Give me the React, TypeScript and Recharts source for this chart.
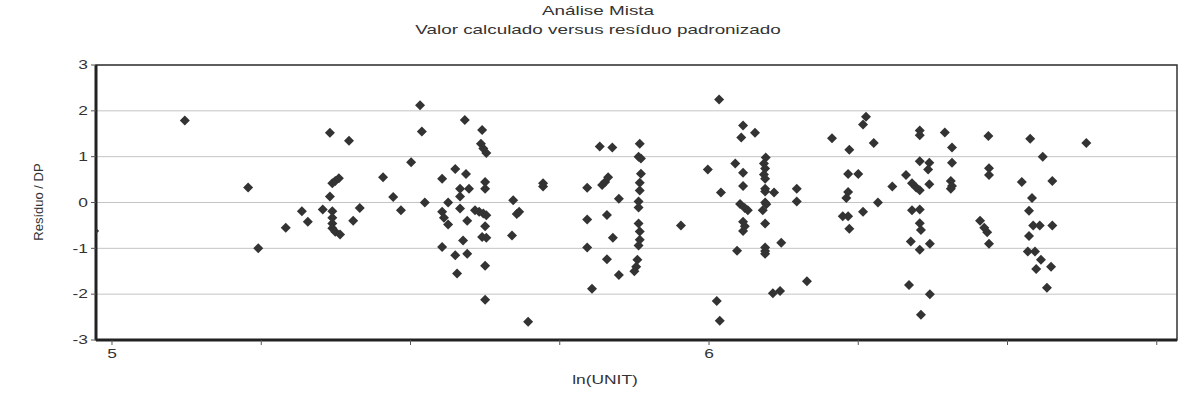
import {
  ScatterChart,
  Scatter,
  XAxis,
  YAxis,
  CartesianGrid,
  ReferenceArea,
} from "recharts";

// ln(UNIT) values
const lnUnit = [
  4.97, 5.122, 5.228, 5.245, 5.291, 5.318, 5.328, 5.353, 5.365, 5.365,
  5.369, 5.374, 5.38, 5.369, 5.369, 5.369, 5.369, 5.374, 5.382, 5.397,
  5.404, 5.415, 5.454, 5.471, 5.484, 5.501, 5.516, 5.519, 5.524, 5.553,
  5.553, 5.556, 5.563, 5.563, 5.553, 5.575, 5.575, 5.578, 5.591, 5.593,
  5.583, 5.598, 5.583, 5.583, 5.595, 5.588, 5.595, 5.62, 5.618, 5.622,
  5.627, 5.625, 5.625, 5.608, 5.615, 5.622, 5.627, 5.625, 5.62, 5.627,
  5.625, 5.625, 5.672, 5.678, 5.682, 5.67, 5.697, 5.722, 5.722, 5.796,
  5.796, 5.796, 5.804, 5.817, 5.838, 5.821, 5.826, 5.831, 5.829, 5.839,
  5.829, 5.849, 5.849, 5.884, 5.882, 5.886, 5.886, 5.884, 5.884, 5.882,
  5.882, 5.882, 5.884, 5.884, 5.882, 5.88, 5.878, 5.875, 5.953, 5.998,
  6.017, 6.02, 6.013, 6.018, 6.057, 6.054, 6.077, 6.044, 6.057, 6.057,
  6.052, 6.06, 6.065, 6.057, 6.06, 6.057, 6.047, 6.095, 6.092, 6.094,
  6.092, 6.094, 6.094, 6.094, 6.094, 6.096, 6.09, 6.094, 6.094, 6.094,
  6.094, 6.109, 6.121, 6.147, 6.147, 6.107, 6.119, 6.164, 6.206, 6.263,
  6.258, 6.276, 6.235, 6.233, 6.25, 6.233, 6.23, 6.283, 6.258, 6.224,
  6.233, 6.235, 6.307, 6.33, 6.34, 6.347, 6.353, 6.369, 6.353, 6.353,
  6.353, 6.369, 6.367, 6.395, 6.407, 6.407, 6.405, 6.407, 6.405, 6.34,
  6.353, 6.353, 6.355, 6.338, 6.353, 6.37, 6.335, 6.37, 6.355, 6.468,
  6.469, 6.469, 6.454, 6.461, 6.466, 6.469, 6.538, 6.559, 6.524, 6.575,
  6.541, 6.536, 6.543, 6.554, 6.575, 6.536, 6.534, 6.546, 6.556, 6.548,
  6.573, 6.566, 6.632,
];

// Resíduo / DP for each point above
const residuo = [
  -0.62, 1.79, 0.33, -1.0, -0.55, -0.19, -0.42, -0.15, 1.52, 0.13,
  0.42, 0.47, 0.53, -0.19, -0.33, -0.46, -0.56, -0.64, -0.7, 1.35,
  -0.4, -0.12, 0.55, 0.12, -0.17, 0.88, 2.12, 1.55, 0.0, 0.52,
  -0.2, -0.33, -0.48, 0.0, -0.97, 0.73, -1.15, -1.55, 1.8, 0.62,
  0.3, 0.3, 0.13, -0.13, -0.4, -0.83, -1.12, 1.58, 1.28, 1.18,
  1.08, 0.45, 0.3, -0.17, -0.2, -0.24, -0.28, -0.52, -0.75, -0.77,
  -1.38, -2.12, 0.05, -0.25, -0.2, -0.72, -2.6, 0.35, 0.42, 0.32,
  -0.37, -0.98, -1.88, 1.22, 1.2, 0.38, 0.45, 0.55, -0.27, -0.77,
  -1.24, -1.58, 0.08, 1.28, 1.0, 0.96, 0.63, 0.43, 0.26, 0.02,
  -0.11, -0.46, -0.63, -0.81, -0.94, -1.25, -1.4, -1.5, -0.5, 0.72,
  2.25, 0.22, -2.15, -2.58, 1.68, 1.42, 1.52, 0.85, 0.65, 0.36,
  -0.03, -0.12, -0.17, -0.42, -0.52, -0.62, -1.05, 0.98, 0.85, 0.74,
  0.61, 0.52, 0.3, 0.24, 0.0, -0.04, -0.17, -0.46, -0.98, -1.06,
  -1.12, 0.22, -0.88, 0.3, 0.02, -1.98, -1.93, -1.72, 1.4, 1.87,
  1.7, 1.3, 1.15, 0.62, 0.62, 0.23, 0.1, 0.0, -0.2, -0.3,
  -0.3, -0.57, 0.35, 0.6, 0.42, 0.33, 0.27, 0.4, 1.57, 1.47,
  0.9, 0.87, 0.72, 1.53, 1.2, 0.87, 0.47, 0.36, 0.3, -0.17,
  -0.15, -0.45, -0.6, -0.85, -1.03, -0.9, -1.8, -2.0, -2.45, 1.45,
  0.75, 0.6, -0.4, -0.55, -0.65, -0.9, 1.39, 1.0, 0.45, 0.47,
  0.1, -0.18, -0.5, -0.5, -0.5, -0.73, -1.07, -1.07, -1.25, -1.45,
  -1.4, -1.86, 1.3,
];

const xTicks = [5, 5.25, 5.5, 5.75, 6, 6.25, 6.5, 6.75];
const yTicks = [-3, -2, -1, 0, 1, 2, 3];

const X_MIN = 4.9732;
const X_MAX = 6.7839;

const points = lnUnit.map((x, i) => ({ x, y: residuo[i] }));

const font = "'Liberation Sans', Arial, sans-serif";
// the scanned original is stretched sideways
const STRETCH = 1.45;

const Diamond = (props: any) => {
  const { cx, cy } = props;
  const r = 5;
  return (
    <path
      d={`M${cx},${cy - r}L${cx + r},${cy}L${cx},${cy + r}L${cx - r},${cy}Z`}
      fill="#333"
    />
  );
};

const XTick = (props: any) => {
  const { x, y, payload } = props;
  if (!Number.isInteger(payload.value)) return null;
  return (
    <text
      x={x}
      y={y}
      dy="0.71em"
      textAnchor="middle"
      fill="#333"
      fontSize={12}
      fontFamily={font}
      transform={`translate(${x},0) scale(${STRETCH},1) translate(${-x},0)`}
    >
      {payload.value}
    </text>
  );
};

const YTick = (props: any) => {
  const { x, y, payload } = props;
  return (
    <text
      x={x}
      y={y}
      dy="0.355em"
      textAnchor="end"
      fill="#333"
      fontSize={12}
      fontFamily={font}
      transform={`translate(${x},0) scale(${STRETCH},1) translate(${-x},0)`}
    >
      {payload.value}
    </text>
  );
};

export default function App() {
  return (
    <div
      style={{
        position: "absolute",
        left: 0,
        top: 0,
        width: 1180,
        height: 408,
        background: "#fff",
        fontFamily: font,
        color: "#333",
      }}
    >
      <div
        style={{
          position: "absolute",
          top: 1,
          left: 598,
          transform: `translateX(-50%) scaleX(${STRETCH})`,
          textAlign: "center",
          fontSize: 13,
          lineHeight: "19px",
          whiteSpace: "nowrap",
        }}
      >
        Análise Mista
        <br />
        Valor calculado versus resíduo padronizado
      </div>
      <div
        style={{
          position: "absolute",
          left: 38,
          top: 202,
          transform: "translate(-50%, -50%) rotate(-90deg)",
          fontSize: 13,
          whiteSpace: "nowrap",
        }}
      >
        Resíduo / DP
      </div>
      <div
        style={{
          position: "absolute",
          left: 605,
          top: 380,
          transform: `translate(-50%, -50%) scaleX(${STRETCH})`,
          fontSize: 12,
          whiteSpace: "nowrap",
        }}
      >
        ln(UNIT)
      </div>

      <ScatterChart
        width={1180}
        height={408}
        margin={{ top: 65, right: 3, bottom: 18, left: 56 }}
      >
        <CartesianGrid horizontal vertical={false} stroke="#c4c4c4" />
        <XAxis
          type="number"
          dataKey="x"
          domain={[X_MIN, X_MAX]}
          allowDataOverflow
          ticks={xTicks}
          height={50}
          tickSize={5}
          tickMargin={4}
          axisLine={{ stroke: "#222", strokeWidth: 3 }}
          tickLine={{ stroke: "#555" }}
          tick={<XTick />}
        />
        <YAxis
          type="number"
          dataKey="y"
          domain={[-3, 3]}
          ticks={yTicks}
          width={40}
          tickSize={5}
          tickMargin={3}
          axisLine={{ stroke: "#222", strokeWidth: 3 }}
          tickLine={{ stroke: "#555" }}
          tick={<YTick />}
        />
        <ReferenceArea
          x1={X_MIN}
          x2={X_MAX}
          y1={-3}
          y2={3}
          fill="none"
          stroke="#333"
          strokeWidth={1.5}
          ifOverflow="visible"
        />
        <Scatter data={points} shape={<Diamond />} isAnimationActive={false} />
      </ScatterChart>
    </div>
  );
}
